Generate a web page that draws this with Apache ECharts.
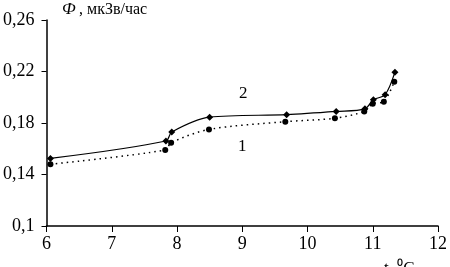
<!DOCTYPE html>
<html>
<head>
<meta charset="utf-8">
<script src="https://cdn.jsdelivr.net/npm/echarts@6/dist/echarts.min.js"></script>
<style>
  html, body { margin: 0; padding: 0; background: #fff; }
  #chart { width: 450px; height: 267px; }
</style>
</head>
<body>
<div id="chart"></div>
<script>
// curve 2 (solid line, diamonds)
var xs2 = [6.06, 7.83, 7.92, 8.50, 9.68, 10.44, 10.88, 11.01, 11.19, 11.34];
var ys2 = [0.1525, 0.166, 0.173, 0.1845, 0.1865, 0.189, 0.191, 0.198, 0.202, 0.2195];
// curve 1 (dotted line, circles)
var xs1 = [6.06, 7.82, 7.91, 8.49, 9.66, 10.42, 10.87, 11.00, 11.17, 11.33];
var ys1 = [0.148, 0.159, 0.1647, 0.175, 0.181, 0.1837, 0.189, 0.195, 0.1966, 0.212];
var xTicks = [6, 7, 8, 9, 10, 11, 12];
var yTicks = [0.1, 0.14, 0.18, 0.22, 0.26];

function pairs(xs, ys) {
  return xs.map(function (x, i) { return [x, ys[i]]; });
}

var serif = "Liberation Serif";
var chart = echarts.init(document.getElementById("chart"));
chart.setOption({
  animation: false,
  grid: { left: 46, right: 9, top: 20, bottom: 41 },
  xAxis: {
    type: "value", min: 6, max: 12, interval: 1,
    axisLine: { lineStyle: { color: "#000", width: 1.5 } },
    axisTick: { inside: false, length: 6, lineStyle: { color: "#000" } },
    splitLine: { show: false },
    axisLabel: { color: "#000", fontFamily: serif, fontSize: 18, margin: 9 }
  },
  yAxis: {
    type: "value", min: 0.1, max: 0.26, interval: 0.04,
    axisLine: { show: true, lineStyle: { color: "#000", width: 1.5 } },
    axisTick: { show: true, length: 5, lineStyle: { color: "#000" } },
    splitLine: { show: false },
    axisLabel: {
      color: "#000", fontFamily: serif, fontSize: 18, margin: 12,
      formatter: function (v) {
        var t = yTicks.filter(function (y) { return Math.abs(y - v) < 1e-6; })[0];
        return t === undefined ? "" : String(t).replace(".", ",");
      }
    }
  },
  series: [
    {
      type: "line", data: pairs(xs2, ys2), smooth: 0.3,
      symbol: "diamond", symbolSize: 7,
      lineStyle: { color: "#000", width: 1.2 },
      itemStyle: { color: "#000" }
    },
    {
      type: "line", data: pairs(xs1, ys1), smooth: 0.3,
      symbol: "circle", symbolSize: 6,
      lineStyle: { color: "#000", width: 1.5, type: [1.5, 4] },
      itemStyle: { color: "#000" }
    }
  ],
  graphic: [
    { type: "text", left: 62, top: 1, style: { text: "Ф", font: "italic 17px " + serif, fill: "#000" } },
    { type: "text", left: 79, top: 2, style: { text: ", мкЗв/час", font: "16px " + serif, fill: "#000" } },
    { type: "text", left: 239, top: 85, style: { text: "2", font: "17px " + serif, fill: "#000" } },
    { type: "text", left: 238, top: 138, style: { text: "1", font: "17px " + serif, fill: "#000" } },
    { type: "text", left: 384, top: 260, style: { text: "t, ⁰С", font: "17px " + serif, fill: "#000" } }
  ]
});
</script>
</body>
</html>
